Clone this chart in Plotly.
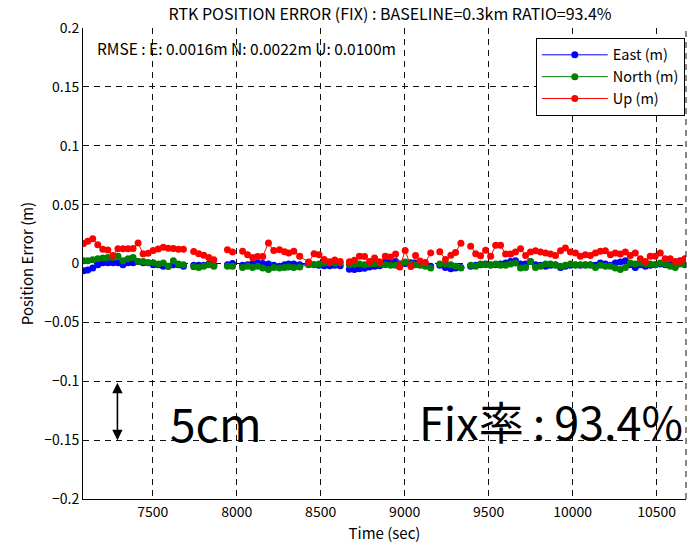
import plotly.graph_objects as go

# ---- data ----
time_sec = [
    7088, 7113, 7143, 7173, 7203, 7233, 7263, 7293, 7323, 7353, 7383, 7413, 7443, 7473, 7503, 7533, 7563, 7593, 7623, 7653, 7683,
    7713,
    7744, 7774, 7804, 7834, 7864,
    7900,
    7945, 7975,
    8005,
    8035, 8065, 8095, 8125, 8155, 8189, 8221, 8255, 8285, 8310, 8340, 8375, 8428, 8461, 8490, 8521, 8554, 8584, 8616,
    8643,
    8671, 8701, 8731, 8761, 8791, 8821, 8851, 8885, 8916, 8946, 8971, 9003, 9037, 9065, 9092, 9123, 9155,
    9182,
    9209, 9243, 9275, 9303, 9335,
    9365,
    9393, 9423, 9452, 9482, 9512, 9542, 9571, 9601, 9631, 9660, 9690, 9720, 9749, 9779, 9809, 9839, 9868, 9898, 9928, 9957,
    9987, 10017, 10046, 10076, 10106, 10136, 10165, 10195, 10225, 10254, 10284, 10314, 10343, 10373, 10403, 10433, 10462,
    10492, 10522, 10551, 10581, 10611, 10640, 10668,
]

east_m = [
    -0.0061, -0.0055, -0.0038, -0.0010, 0.0007, 0.0007, 0.0007, 0.0007, -0.0010, 0.0007, 0.0007, 0.0018, 0.0007, 0.0007, -0.0010, -0.0010, -0.0024, -0.0024, -0.0010, -0.0010, -0.0024,
    None,
    -0.0015, -0.0015, -0.0015, -0.0004, -0.0015,
    None,
    -0.0010, 0.0001,
    None,
    -0.0015, -0.0010, 0.0001, 0.0007, 0.0001, -0.0004, -0.0015, -0.0024, -0.0010, -0.0004, -0.0004, -0.0010, -0.0004, -0.0010, -0.0015, -0.0020, -0.0020, -0.0015, -0.0020,
    None,
    -0.0048, -0.0050, -0.0045, -0.0040, -0.0030, -0.0024, -0.0020, 0.0013, 0.0013, 0.0018, -0.0004, 0.0001, 0.0007, 0.0004, -0.0004, -0.0010, -0.0024,
    None,
    -0.0015, -0.0033, -0.0044, -0.0038, -0.0033,
    None,
    -0.0024, -0.0015, -0.0010, -0.0004, -0.0010, -0.0010, -0.0004, 0.0004, 0.0018, 0.0024, -0.0004, -0.0004, 0.0018, -0.0010, -0.0015, -0.0024, -0.0015, -0.0010, -0.0033, -0.0024,
    -0.0015, -0.0010, -0.0015, -0.0010, -0.0010, -0.0015, 0.0004, -0.0004, -0.0015, 0.0004, 0.0013, 0.0024, -0.0010, -0.0033, -0.0010, -0.0024, -0.0015,
    -0.0010, -0.0004, -0.0010, -0.0015, -0.0024, 0.0024, 0.0004,
]

north_m = [
    0.0024, 0.0024, 0.0032, 0.0041, 0.0047, 0.0052, 0.0052, 0.0061, 0.0024, 0.0041, 0.0052, 0.0018, 0.0018, 0.0007, 0.0007, -0.0004, 0.0004, -0.0024, 0.0024, -0.0004, -0.0010,
    None,
    -0.0027, -0.0033, -0.0024, -0.0010, -0.0024,
    None,
    -0.0024, -0.0024,
    None,
    -0.0033, -0.0024, -0.0033, -0.0024, -0.0038, -0.0052, -0.0033, -0.0038, -0.0033, -0.0030, -0.0035, -0.0030, -0.0010, -0.0010, -0.0004, 0.0004, 0.0004, 0.0004, 0.0004,
    None,
    -0.0010, -0.0004, -0.0004, -0.0010, -0.0004, 0.0000, -0.0004, -0.0010, -0.0015, -0.0015, -0.0004, 0.0013, -0.0004, -0.0010, -0.0015, -0.0024, -0.0038,
    None,
    -0.0004, -0.0004, -0.0010, -0.0024, -0.0038,
    None,
    -0.0015, -0.0024, -0.0004, -0.0010, -0.0015, -0.0004, -0.0015, -0.0015, -0.0004, 0.0004, -0.0038, -0.0033, 0.0018, -0.0033, -0.0024, -0.0004, -0.0004, -0.0015, -0.0024, -0.0015,
    -0.0004, -0.0015, -0.0010, -0.0015, -0.0015, -0.0033, -0.0015, -0.0024, -0.0024, -0.0038, -0.0052, -0.0033, 0.0004, -0.0004, 0.0004, -0.0004, -0.0004,
    -0.0010, 0.0004, -0.0004, -0.0024, -0.0033, -0.0004, -0.0010,
]

up_m = [
    0.0170, 0.0188, 0.0211, 0.0160, 0.0120, 0.0115, 0.0068, 0.0125, 0.0125, 0.0125, 0.0128, 0.0174, 0.0082, 0.0087, 0.0110, 0.0123, 0.0137, 0.0130, 0.0128, 0.0122, 0.0122,
    None,
    0.0102, 0.0083, 0.0070, 0.0050, 0.0031,
    None,
    0.0117, 0.0098,
    None,
    0.0103, 0.0075, 0.0052, 0.0060, 0.0060, 0.0174, 0.0110, 0.0117, 0.0100, 0.0089, 0.0103, 0.0061, 0.0012, 0.0083, 0.0075, 0.0034, 0.0014, 0.0030, 0.0016,
    None,
    0.0014, 0.0027, 0.0062, 0.0060, 0.0016, 0.0046, 0.0014, 0.0062, 0.0055, 0.0080, -0.0030, 0.0110, -0.0025, 0.0069, 0.0022, 0.0008, 0.0090,
    None,
    0.0099, 0.0033, 0.0070, 0.0093, 0.0173,
    None,
    0.0147, 0.0083, 0.0066, 0.0112, 0.0061, 0.0154, 0.0154, 0.0080, 0.0080, 0.0098, 0.0126, 0.0069, 0.0098, 0.0109, 0.0098, 0.0089, 0.0080, 0.0069, 0.0109, 0.0131,
    0.0098, 0.0089, 0.0061, 0.0075, 0.0069, 0.0089, 0.0103, 0.0109, 0.0075, 0.0089, 0.0080, 0.0098, 0.0069, 0.0089, 0.0041, 0.0018, 0.0061,
    0.0061, 0.0089, 0.0041, 0.0041, 0.0018, 0.0018, 0.0041,
]

series_names = ["East (m)", "North (m)", "Up (m)"]
series_colors = ["#0000FF", "#008000", "#FF0000"]

x_tick_vals = [7500, 8000, 8500, 9000, 9500, 10000, 10500]
x_tick_text = ["7500", "8000", "8500", "9000", "9500", "10000", "10500"]
y_tick_vals = [0.2, 0.15, 0.1, 0.05, 0, -0.05, -0.1, -0.15, -0.2]

title_text = "RTK POSITION ERROR (FIX) : BASELINE=0.3km RATIO=93.4%"
rmse_text = "RMSE : E: 0.0016m N: 0.0022m U: 0.0100m"
scale_text = "5cm"
fix_text = "Fix率\u2009:\u200993.4%"
x_range = [7085, 10675]
y_range = [-0.2, 0.2]

FONT = "Noto Sans CJK JP"

fig = go.Figure()
for name, vals, col in zip(series_names, [east_m, north_m, up_m], series_colors):
    fig.add_trace(go.Scatter(
        x=time_sec, y=vals, name=name, mode="lines+markers",
        line=dict(color=col, width=1),
        marker=dict(color=col, size=7),
        connectgaps=False,
    ))

grid = dict(showgrid=True, gridcolor="#111111", gridwidth=1, griddash="6px,5px",
            zeroline=False, showline=True, linecolor="black", linewidth=1,
            ticks="", tickfont=dict(family=FONT, size=14, color="black"))

fig.update_layout(
    width=692, height=547,
    margin=dict(l=83, r=6, t=28, b=48),
    paper_bgcolor="white", plot_bgcolor="white",
    font=dict(family=FONT, size=14, color="black"),
    title=dict(text=title_text, x=390 / 692, xanchor="center",
               y=1 - 14 / 547, yanchor="middle", font=dict(family=FONT, size=16)),
    xaxis=dict(range=x_range, tickvals=x_tick_vals, ticktext=x_tick_text,
               title=dict(text="Time (sec)", font=dict(family=FONT, size=15), standoff=8),
               **grid),
    yaxis=dict(range=y_range, tickvals=y_tick_vals,
               title=dict(text="Position Error (m)", font=dict(family=FONT, size=15), standoff=6),
               **grid),
    legend=dict(x=0.998, xanchor="right", y=0.979, yanchor="top",
                bgcolor="white", bordercolor="black", borderwidth=1,
                font=dict(family=FONT, size=14.5), tracegroupgap=0, itemwidth=66),
    showlegend=True,
)

# dashed right border
fig.add_shape(type="line", xref="x domain", yref="y domain", x0=1, x1=1, y0=0, y1=1,
              line=dict(color="#111111", width=1, dash="6px,5px"))

fig.add_annotation(xref="x domain", yref="y domain", x=0.02, y=1 - 20 / 471,
                   text=rmse_text, showarrow=False, xanchor="left", yanchor="middle",
                   font=dict(family=FONT, size=15.5))

# double-headed 5cm arrow
fig.add_annotation(x=7290, y=-0.15, ax=7290, ay=-0.1, axref="x", ayref="y",
                   xref="x", yref="y", text="", showarrow=True,
                   arrowhead=2, startarrowhead=2, arrowside="end+start",
                   arrowwidth=1.6, arrowsize=1.3, startarrowsize=1.3, arrowcolor="black")

fig.add_annotation(xref="x domain", yref="y domain", x=(168 - 83) / 603, y=1 - (422 - 28) / 471,
                   text=scale_text, showarrow=False, xanchor="left", yanchor="middle",
                   font=dict(family=FONT, size=46, color="black"))
fig.add_annotation(xref="x domain", yref="y domain", x=(417 - 83) / 603, y=1 - (420 - 28) / 471,
                   text=fix_text, showarrow=False, xanchor="left", yanchor="middle",
                   font=dict(family=FONT, size=45, color="black"))

fig.write_html("out.html")
